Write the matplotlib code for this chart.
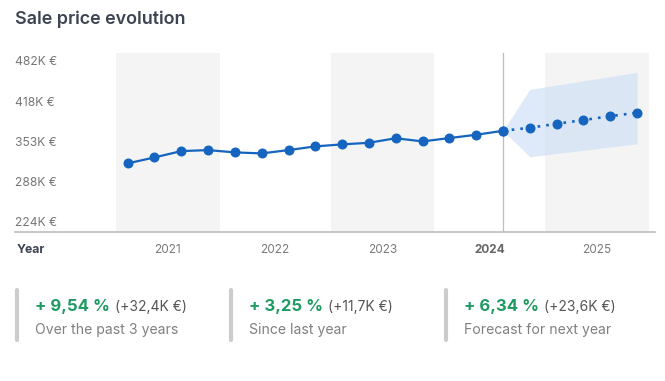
import matplotlib
matplotlib.use('Agg')
import matplotlib.pyplot as plt
from matplotlib.transforms import blended_transform_factory

plt.rcParams['font.family'] = ['Inter', 'DejaVu Sans']

# quarterly sale prices (K EUR), mid-quarter positions
years = [2021, 2022, 2023, 2024, 2025]
hist_x = [2021.125, 2021.375, 2021.625, 2021.875,
          2022.125, 2022.375, 2022.625, 2022.875,
          2023.125, 2023.375, 2023.625, 2023.875,
          2024.125, 2024.375, 2024.625]
hist_y = [319.5, 329.1, 339.3, 340.9, 337.2, 335.6, 340.9, 346.9,
          350.1, 352.7, 360.0, 354.9, 360.3, 365.6, 372.0]
fc_x = [2024.625, 2024.875, 2025.125, 2025.375, 2025.625, 2025.875]
fc_y = [372.0, 376.9, 383.3, 389.3, 395.6, 401.1]
fc_hi = [372.0, 438.8, 445.6, 452.5, 459.3, 466.2]
fc_lo = [372.0, 330.1, 335.4, 340.6, 345.9, 351.1]
shaded_years = [2021, 2023, 2025]
current_year = 2024

ytick_vals = [224, 288.5, 353, 417.5, 482]
ytick_labels = ['224K €', '288K €', '353K €', '418K €', '482K €']

stat_main = ['+ 9,54 %', '+ 3,25 %', '+ 6,34 %']
stat_abs = ['(+32,4K €)', '(+11,7K €)', '(+23,6K €)']
stat_sub = ['Over the past 3 years', 'Since last year', 'Forecast for next year']

W, H = 665, 381
fig = plt.figure(figsize=(W/100, H/100), dpi=100)
fig.patch.set_facecolor('white')

ax = fig.add_axes([15/W, 1-232/H, 640/W, 179/H])
ax.set_xlim(2020.075, 2026.042)
ax.set_ylim(209.0, 497.3)
for s in ax.spines.values():
  s.set_visible(False)
ax.set_xticks([])
ax.set_yticks([])

for y in shaded_years:
  ax.axvspan(y+0.017, y+0.986, color='#f4f4f4', lw=0, zorder=0)

ax.fill_between(fc_x, fc_lo, fc_hi, color='#c9ddf5', alpha=0.6, lw=0, zorder=1)
ax.axvline(hist_x[-1], color='#bdbdbd', lw=0.9, zorder=1)
ax.axhline(209.0, color='#bdbdbd', lw=1.2, zorder=1, clip_on=False)

blue = '#1565c0'
ax.plot(hist_x, hist_y, '-', color=blue, lw=1.6, marker='o', ms=6.2, zorder=3)
ax.plot(fc_x, fc_y, color=blue, lw=1.9, dashes=(1, 2.3), marker='o', ms=6.2,
        zorder=3)

# y labels inside the plot on the left
trans = blended_transform_factory(ax.transAxes, ax.transData)
for v, lab in zip(ytick_vals, ytick_labels):
  ax.text(0, v, lab, transform=trans, ha='left', va='center',
          fontsize=8.7, color='#777777')

# year labels
trans2 = blended_transform_factory(ax.transData, fig.transFigure)
for y in years:
  bold = (y == current_year)
  ax.text(y+0.5, 1-250/H, str(y), transform=trans2, ha='center', va='center',
          fontsize=8.5, color='#666666' if bold else '#7a7a7a',
          fontweight='bold' if bold else 'normal')
fig.text(17/W, 1-250/H, 'Year', ha='left', va='center', fontsize=8.8,
         fontweight='bold', color='#3d4451')

fig.text(15/W, 1-24/H, 'Sale price evolution', ha='left', va='baseline',
         fontsize=12.9, fontweight='semibold', color='#3d4451')

# stats boxes
xs = [17, 231, 446]
fig.canvas.draw()
r = fig.canvas.get_renderer()
for i in range(3):
  x0 = xs[i]
  fig.add_artist(plt.Line2D([x0/W, x0/W], [1-290/H, 1-340/H], color='#cccccc',
                            lw=3, solid_capstyle='round'))
  t = fig.text((x0+18)/W, 1-311/H, stat_main[i], ha='left', va='baseline',
               fontsize=12, fontweight='bold', color='#1f9a62')
  bb = t.get_window_extent(renderer=r)
  fig.text((bb.x1+5)/W, 1-311/H, stat_abs[i], ha='left', va='baseline',
           fontsize=10, color='#555555')
  fig.text((x0+18)/W, 1-334/H, stat_sub[i], ha='left', va='baseline',
           fontsize=10.1, color='#808080')

fig.savefig('out.png', dpi=100, facecolor='white')
